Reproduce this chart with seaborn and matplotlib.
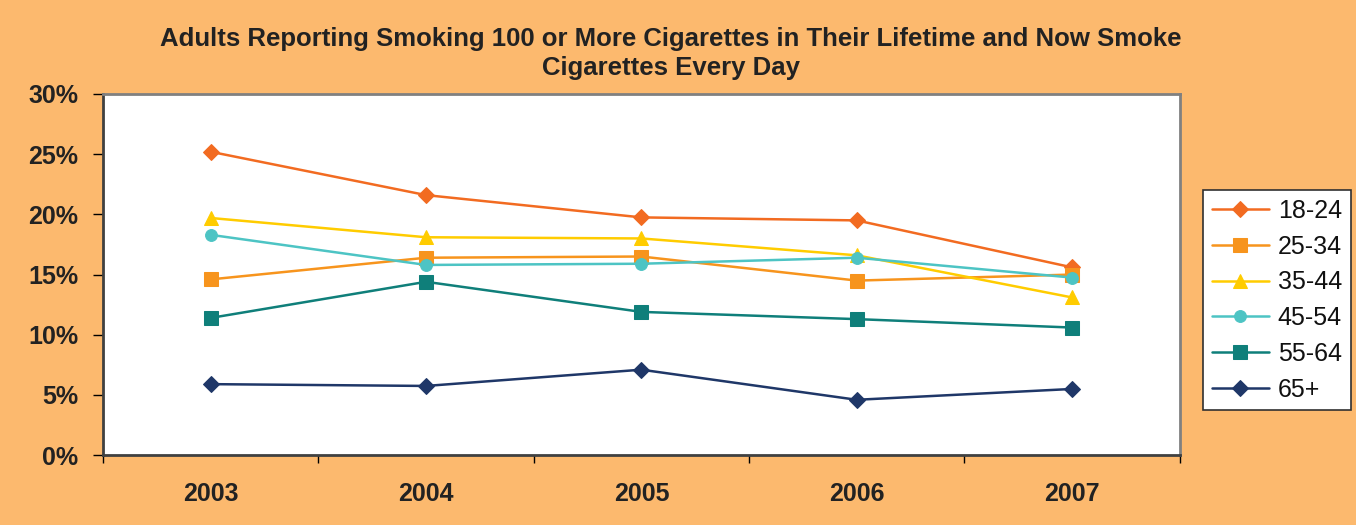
import matplotlib
matplotlib.use("Agg")
import matplotlib.pyplot as plt
import seaborn as sns
import pandas as pd
from matplotlib.ticker import FixedLocator, FuncFormatter

years = ["2003", "2004", "2005", "2006", "2007"]
groups = ["18-24", "25-34", "35-44", "45-54", "55-64", "65+"]
v_18_24 = [25.2, 21.6, 19.75, 19.5, 15.6]
v_25_34 = [14.6, 16.4, 16.5, 14.5, 15.0]
v_35_44 = [19.7, 18.1, 18.0, 16.6, 13.1]
v_45_54 = [18.3, 15.8, 15.9, 16.4, 14.75]
v_55_64 = [11.4, 14.4, 11.9, 11.3, 10.6]
v_65 = [5.9, 5.75, 7.1, 4.6, 5.5]
series = [v_18_24, v_25_34, v_35_44, v_45_54, v_55_64, v_65]
yticks = [0, 5, 10, 15, 20, 25, 30]

colors = ["#F26B21", "#F7941D", "#FFCC00", "#4DC4C4", "#0F7F7A", "#1F3768"]
markers = ["D", "s", "^", "o", "s", "D"]
msizes = [8.5, 10.5, 10.5, 8.5, 10.5, 8]

rows = []
for g, vals in zip(groups, series):
    for i, (y, v) in enumerate(zip(years, vals)):
        rows.append({"pos": i, "year": y, "group": g, "value": v})
df = pd.DataFrame(rows)

sns.set_theme(style="white")
plt.rcParams['font.family'] = ['Liberation Sans', 'DejaVu Sans']

txt = "#222222"
bg = "#FCB96E"
fig = plt.figure(figsize=(13.56, 5.25), dpi=100, facecolor=bg)
ax = fig.add_axes([0.076, 0.133, 0.794, 0.688])
ax.set_facecolor("white")

for g, c, m, ms in zip(groups, colors, markers, msizes):
    sub = df[df["group"] == g]
    sns.lineplot(data=sub, x="pos", y="value", ax=ax, color=c, marker=m,
                 markersize=ms, markeredgecolor=c, linewidth=1.8, label=g,
                 sort=True, errorbar=None)

ax.set_xlim(-0.5, 4.5)
ax.set_ylim(0, 30)
ax.yaxis.set_major_locator(FixedLocator(yticks))
ax.yaxis.set_major_formatter(FuncFormatter(lambda v, p: f"{int(v)}%"))
ax.set_xticks(range(len(years)))
ax.set_xticklabels(years)
ax.xaxis.set_minor_locator(FixedLocator([i - 0.5 for i in range(len(years) + 1)]))
ax.tick_params(axis="x", which="major", length=0, pad=19, labelsize=18, labelcolor=txt)
ax.tick_params(axis="x", which="minor", length=6, direction="out", color="black", width=1, bottom=True)
ax.tick_params(axis="y", which="major", length=7, direction="out", color="black", width=1,
               labelsize=18, left=True, pad=11, labelcolor=txt)
for lab in ax.get_xticklabels() + ax.get_yticklabels():
    lab.set_fontweight("bold")
ax.set_xlabel("")
ax.set_ylabel("")

for side in ["top", "right"]:
    ax.spines[side].set_color("#808080")
    ax.spines[side].set_linewidth(2)
for side in ["left", "bottom"]:
    ax.spines[side].set_color("#404040")
    ax.spines[side].set_linewidth(2)

fig.suptitle("Adults Reporting Smoking 100 or More Cigarettes in Their Lifetime and Now Smoke\nCigarettes Every Day",
             x=0.495, y=0.949, fontsize=18.5, fontweight="bold", linespacing=1.3, color=txt)

handles, labels = ax.get_legend_handles_labels()
ax.get_legend().remove()
leg = fig.legend(handles, labels, loc="center left", bbox_to_anchor=(0.887, 0.428),
                 fontsize=18, frameon=True, fancybox=False, edgecolor="#303030",
                 facecolor="white", framealpha=1, handlelength=2.3,
                 labelspacing=0.47, borderpad=0.35, handletextpad=0.35, borderaxespad=0)
leg.get_frame().set_linewidth(1.2)
for t in leg.get_texts():
    t.set_color("#111111")

fig.savefig("out.png", dpi=100, facecolor=bg)
